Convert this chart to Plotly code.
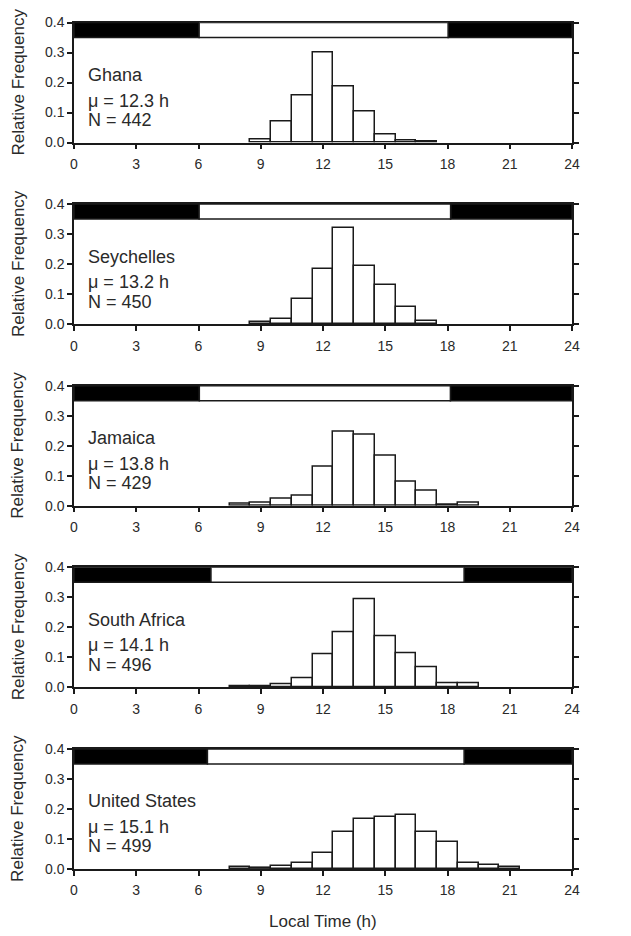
import plotly.graph_objects as go

# ---------------- data ----------------
countries = ["Ghana", "Seychelles", "Jamaica", "South Africa", "United States"]
means = [12.3, 13.2, 13.8, 14.1, 15.1]
counts = [442, 450, 429, 496, 499]

ghana_hours = [9, 10, 11, 12, 13, 14, 15, 16, 17]
ghana_freq = [0.011, 0.069, 0.156, 0.299, 0.186, 0.102, 0.026, 0.007, 0.004]

seychelles_hours = [9, 10, 11, 12, 13, 14, 15, 16, 17]
seychelles_freq = [0.006, 0.016, 0.083, 0.184, 0.319, 0.194, 0.131, 0.056, 0.010]

jamaica_hours = [8, 9, 10, 11, 12, 13, 14, 15, 16, 17, 18, 19]
jamaica_freq = [0.007, 0.010, 0.024, 0.032, 0.129, 0.246, 0.237, 0.166, 0.081, 0.050, 0.004, 0.011]

southafrica_hours = [8, 9, 10, 11, 12, 13, 14, 15, 16, 17, 18, 19]
southafrica_freq = [0.004, 0.004, 0.009, 0.031, 0.110, 0.182, 0.294, 0.170, 0.112, 0.068, 0.012, 0.012]

us_hours = [8, 9, 10, 11, 12, 13, 14, 15, 16, 17, 18, 19, 20, 21]
us_freq = [0.006, 0.003, 0.010, 0.019, 0.054, 0.123, 0.168, 0.173, 0.180, 0.123, 0.091, 0.020, 0.013, 0.007]

sunrise = [6.03, 6.03, 6.04, 6.6, 6.43]
sunset = [18.03, 18.15, 18.14, 18.8, 18.8]

x_ticks = [0, 3, 6, 9, 12, 15, 18, 21, 24]
y_ticks = [0.0, 0.1, 0.2, 0.3, 0.4]
y_ticklabels = ["0.0", "0.1", "0.2", "0.3", "0.4"]

hours_list = [ghana_hours, seychelles_hours, jamaica_hours, southafrica_hours, us_hours]
freq_list = [ghana_freq, seychelles_freq, jamaica_freq, southafrica_freq, us_freq]

# ---------------- layout ----------------
# the page body has an 8 px margin, so work in page pixels and subtract it
OFF = 8
W, H = 631 - OFF, 936 - OFF
FONT = "Liberation Sans, Arial, sans-serif"
TXT = "#2a2a2a"
LINE = "#1a1a1a"


def px_x(p):
    return (p - OFF) / W


def px_y(p):
    return 1 - (p - OFF) / H


x0_px, x1_px = 74, 572
panel_h = 120
tops = [22.5 + 181.6 * i for i in range(5)]

fig = go.Figure()
layout = dict(
    width=W, height=H,
    margin=dict(l=0, r=0, t=0, b=0, autoexpand=False),
    paper_bgcolor="white", plot_bgcolor="white",
    showlegend=False,
    font=dict(family=FONT, color=TXT, size=14),
    bargap=0,
)
annotations = []
shapes = []

for i in range(5):
    k = "" if i == 0 else str(i + 1)
    xa, ya = "x" + k, "y" + k
    top = tops[i]
    bot = top + panel_h
    dom_y = [px_y(bot), px_y(top)]
    fig.add_trace(go.Bar(
        x=hours_list[i], y=freq_list[i], width=1,
        marker=dict(color="white", line=dict(color=LINE, width=1.5)),
        xaxis=xa, yaxis=ya, hoverinfo="x+y",
    ))
    layout["xaxis" + k] = dict(
        domain=[px_x(x0_px), px_x(x1_px)], range=[0, 24], anchor=ya,
        tickmode="array", tickvals=x_ticks, ticks="outside", ticklen=5,
        tickwidth=1.5, tickcolor=LINE, showline=True, linecolor=LINE,
        linewidth=1.5, mirror=True, showgrid=False, zeroline=False,
        automargin=False, ticklabelstandoff=3,
        tickfont=dict(size=14, family=FONT, color=TXT),
    )
    layout["yaxis" + k] = dict(
        domain=dom_y, range=[0, 0.4], anchor=xa,
        tickmode="array", tickvals=y_ticks, ticktext=y_ticklabels,
        ticks="outside", ticklen=5, tickwidth=1.5, tickcolor=LINE,
        showline=True, linecolor=LINE, linewidth=1.5, mirror="ticks",
        showgrid=False, zeroline=False, automargin=False,
        tickfont=dict(size=14, family=FONT, color=TXT),
    )
    # y-axis title
    annotations.append(dict(
        text="Relative Frequency", xref="paper", yref="paper",
        x=px_x(18), y=px_y(top + panel_h / 2), textangle=-90,
        xanchor="center", yanchor="middle", showarrow=False,
        font=dict(size=17, family=FONT, color=TXT),
    ))
    # light/dark bar
    shapes.append(dict(type="rect", xref=xa, yref=ya, x0=0, x1=sunrise[i], y0=0.35, y1=0.4,
                       fillcolor="black", line=dict(color=LINE, width=1.5), layer="above"))
    shapes.append(dict(type="rect", xref=xa, yref=ya, x0=sunset[i], x1=24, y0=0.35, y1=0.4,
                       fillcolor="black", line=dict(color=LINE, width=1.5), layer="above"))
    shapes.append(dict(type="rect", xref=xa, yref=ya, x0=sunrise[i], x1=sunset[i], y0=0.35, y1=0.4,
                       fillcolor="white", line=dict(color=LINE, width=1.5), layer="above"))
    # text labels
    for txt, off in [(countries[i], 52.5), ("\u03bc = %.1f h" % means[i], 78), ("N = %d" % counts[i], 97.5)]:
        annotations.append(dict(
            text=txt, xref="paper", yref="paper", x=px_x(86), y=px_y(top + off),
            xanchor="left", yanchor="middle", showarrow=False,
            font=dict(size=18, family=FONT, color=TXT),
        ))

annotations.append(dict(
    text="Local Time (h)", xref="paper", yref="paper", x=px_x((x0_px + x1_px) / 2), y=px_y(921),
    xanchor="center", yanchor="middle", showarrow=False,
    font=dict(size=17, family=FONT, color=TXT),
))

layout["annotations"] = annotations
layout["shapes"] = shapes
fig.update_layout(**layout)
fig.write_html("out.html")
